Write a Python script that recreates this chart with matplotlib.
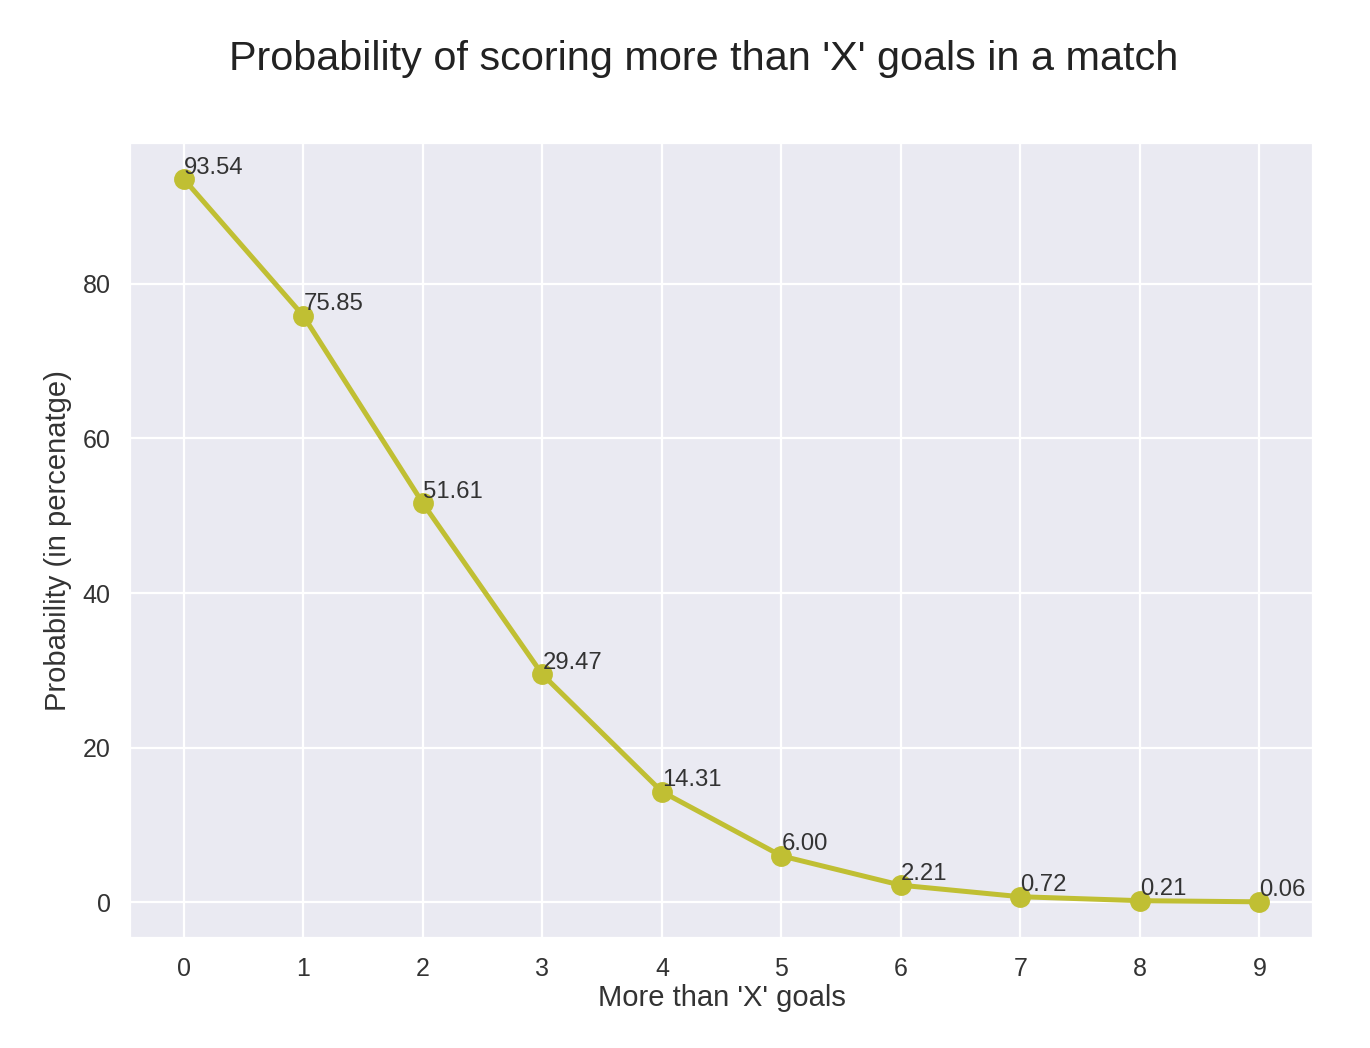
import matplotlib
matplotlib.use("Agg")
import matplotlib.pyplot as plt
import seaborn as sns

sns.set_style("darkgrid")
plt.rcParams['font.family'] = ['Liberation Sans', 'DejaVu Sans']

goals = [0, 1, 2, 3, 4, 5, 6, 7, 8, 9]
probs = [93.54, 75.85, 51.61, 29.47, 14.31, 6.00, 2.21, 0.72, 0.21, 0.06]

fig = plt.figure(figsize=(6.85, 5.24), dpi=200)
ax = fig.add_axes([0.095, 0.105, 0.8635, 0.7585])

ax.plot(goals, probs, color='#c0bf33', lw=1.8, marker='o', ms=6.5)
for x, y in zip(goals, probs):
    ax.annotate(f"{y:.2f}", (x, y), xytext=(0, 2), textcoords='offset points',
                fontsize=8.6, color='#333333')

ax.set_xticks(goals)
ax.tick_params(labelsize=9, colors='#333333')
ax.set_xlabel("More than 'X' goals", fontsize=10.5, color='#333333', labelpad=1)
ax.set_ylabel("Probability (in percenatge)", fontsize=10.5, color='#333333')
fig.suptitle("Probability of scoring more than 'X' goals in a match",
             fontsize=14.9, x=0.514, y=0.962, color='#222222')

fig.savefig("out.png", dpi=200)
